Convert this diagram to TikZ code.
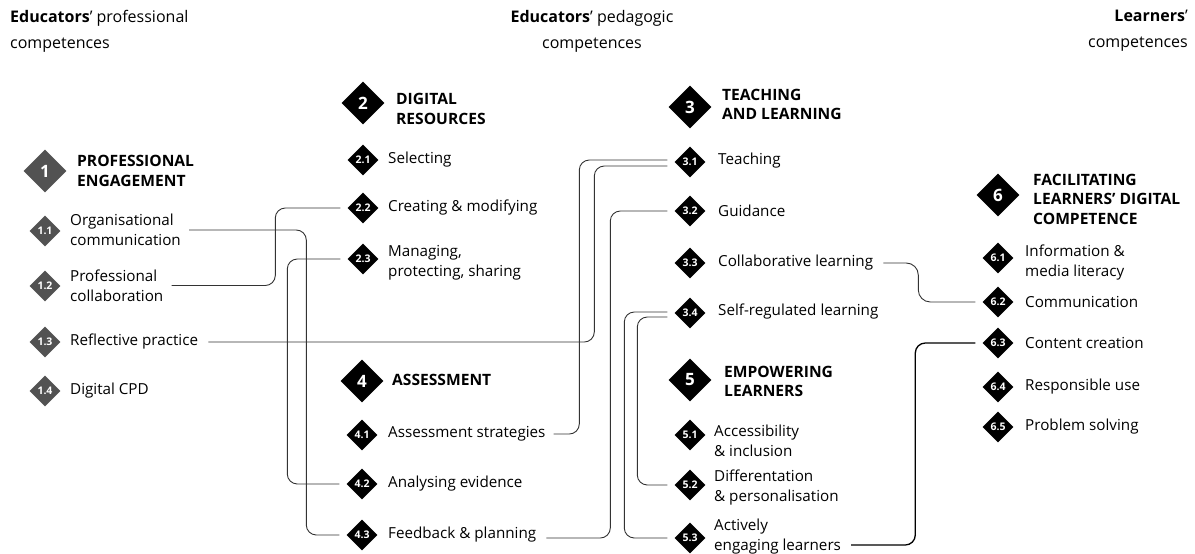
\documentclass[tikz,border=0pt]{standalone}
\usepackage{fontspec}
\setmainfont{Open Sans}
\usetikzlibrary{shapes.geometric,calc,backgrounds}
\begin{document}
\begin{tikzpicture}[x=1pt,y=-1pt,
  bigd/.style={diamond,fill=black,minimum width=43pt,minimum height=43pt,inner sep=0pt,text=white,font=\fontsize{17}{17}\selectfont\bfseries},
  smd/.style={diamond,fill=black,minimum width=31pt,minimum height=31pt,inner sep=0pt,text=white,font=\fontsize{10.5}{10.5}\selectfont\bfseries},
  colone/.style={fill=black!68},
  lab/.style={anchor=west,align=left,inner sep=2pt,font=\fontsize{15.2}{20}\selectfont},
  ttl/.style={anchor=west,align=left,inner sep=2pt,font=\fontsize{15.6}{19.5}\selectfont\bfseries},
  hdr/.style={inner sep=0pt,font=\fontsize{16}{26}\selectfont},
  spine/.style={draw=black!50,line width=0.8pt},
  conn/.style={draw=black!80,line width=0.9pt,rounded corners=10pt},
]
\useasboundingbox (0,0) rectangle (1195,554);
\fill[white] (0,0) rectangle (1195,554);

% headers
\node[hdr,anchor=west,align=left] (h1) at (10,31) {\textbf{Educators}’ professional\\competences};
\node[hdr,align=center] (h2) at (592,31) {\textbf{Educators}’ pedagogic\\competences};
\node[hdr,anchor=east,align=right] (h3) at (1188,31) {\textbf{Learners}’\\competences};

% column 1
\node[bigd,colone] (d1) at (45,171) {1};
\node[smd,colone] (d11) at (45,231) {1.1};
\node[smd,colone] (d12) at (45,286) {1.2};
\node[smd,colone] (d13) at (45,342) {1.3};
\node[smd,colone] (d14) at (45,391) {1.4};
\node[ttl] (t1) at (75,171) {PROFESSIONAL\\ENGAGEMENT};
\node[lab] (lab11) at (68,230) {Organisational\\communication};
\node[lab] (lab12) at (68,285.5) {Professional\\collaboration};
\node[lab] (lab13) at (68,342) {Reflective practice};
\node[lab] (lab14) at (68,391) {Digital CPD};

% column 2
\node[bigd] (d2) at (363,103) {2};
\node[smd] (d21) at (363,160) {2.1};
\node[smd] (d22) at (363,208) {2.2};
\node[smd] (d23) at (363,259) {2.3};
\node[ttl] (t2) at (394,109) {DIGITAL\\RESOURCES};
\node[lab] (lab21) at (386,160) {Selecting};
\node[lab] (lab22) at (386,208) {Creating \& modifying};
\node[lab] (lab23) at (386,262.5) {Managing,\\protecting, sharing};

% column 4
\node[bigd] (d4) at (362,381) {4};
\node[smd] (d41) at (362,435) {4.1};
\node[smd] (d42) at (362,484) {4.2};
\node[smd] (d43) at (362,535) {4.3};
\node[ttl] (t4) at (390,380) {ASSESSMENT};
\node[lab] (lab41) at (386,434) {Assessment strategies};
\node[lab] (lab42) at (386,484) {Analysing evidence};
\node[lab] (lab43) at (386,535) {Feedback \& planning};

% column 3
\node[bigd] (d3) at (690,107) {3};
\node[smd] (d31) at (690,162) {3.1};
\node[smd] (d32) at (690,211) {3.2};
\node[smd] (d33) at (690,263) {3.3};
\node[smd] (d34) at (690,313) {3.4};
\node[ttl] (t3) at (720,104.5) {TEACHING\\AND LEARNING};
\node[lab] (lab31) at (716,161) {Teaching};
\node[lab] (lab32) at (716,211) {Guidance};
\node[lab] (lab33) at (716,263) {Collaborative learning};
\node[lab] (lab34) at (716,312) {Self-regulated learning};

% column 5
\node[bigd] (d5) at (690,380) {5};
\node[smd] (d51) at (690,435) {5.1};
\node[smd] (d52) at (690,485) {5.2};
\node[smd] (d53) at (690,538) {5.3};
\node[ttl] (t5) at (722,381.5) {EMPOWERING\\LEARNERS};
\node[lab] (lab51) at (712,441) {Accessibility\\\& inclusion};
\node[lab] (lab52) at (712,488) {Differentation\\\& personalisation};
\node[lab] (lab53) at (712,537) {Actively\\engaging learners};

% column 6
\node[bigd] (d6) at (998,195) {6};
\node[smd] (d61) at (998,258) {6.1};
\node[smd] (d62) at (998,302) {6.2};
\node[smd] (d63) at (998,343) {6.3};
\node[smd] (d64) at (998,387) {6.4};
\node[smd] (d65) at (998,427) {6.5};
\node[ttl] (t6) at (1031,199) {FACILITATING\\LEARNERS’ DIGITAL\\COMPETENCE};
\node[lab] (lab61) at (1023,263) {Information \&\\media literacy};
\node[lab] (lab62) at (1023,302) {Communication};
\node[lab] (lab63) at (1023,343) {Content creation};
\node[lab] (lab64) at (1023,387) {Responsible use};
\node[lab] (lab65) at (1023,427) {Problem solving};

\begin{scope}[on background layer]
\draw[spine] (d1) -- (d14);
\draw[spine] (d2) -- (d23);
\draw[spine] (d4) -- (d43);
\draw[spine] (d3) -- (d34);
\draw[spine] (d5) -- (d53);
\draw[spine] (d6) -- (d65);
\end{scope}

% connectors
\draw[conn] ($(lab11.east)+(6,0)$) -| ($(d43.west)+(-40,0)$) -- ($(d43.west)+(-7,0)$);
\draw[conn] ($(lab12.east)+(6,0)$) -| ($(d22.west)+(-72,0)$) -- ($(d22.west)+(-7,0)$);
\draw[conn] ($(d23.west)+(-7,0)$) -| ($(d42.west)+(-59,0)$) -- ($(d42.west)+(-7,0)$);
\draw[conn] ($(lab13.east)+(8,0)$) -| ($(d31.west)+(-80,4)$) -- ($(d31.west)+(-7,4)$);
\draw[conn] ($(lab41.east)+(6,0)$) -| ($(d31.west)+(-95,-2)$) -- ($(d31.west)+(-7,-2)$);
\draw[conn] ($(lab43.east)+(8,3)$) -| ($(d32.west)+(-64,0)$) -- ($(d32.west)+(-7,0)$);
\draw[conn] ($(d34.west)+(-7,4)$) -| ($(d52.west)+(-37,0)$) -- ($(d52.west)+(-7,0)$);
\draw[conn] ($(d34.west)+(-7,-1)$) -| ($(d53.west)+(-50,0)$) -- ($(d53.west)+(-7,0)$);
\draw[conn,rounded corners=12pt] ($(lab33.east)+(8,0)$) -| ($(d62.west)+(-64,0)$) -- ($(d62.west)+(-7,0)$);
\draw[conn,draw=black,line width=1.3pt] ($(lab53.east)+(8,8)$) -| ($(d63.west)+(-67,0)$) -- ($(d63.west)+(-7,0)$);
\end{tikzpicture}
\end{document}
